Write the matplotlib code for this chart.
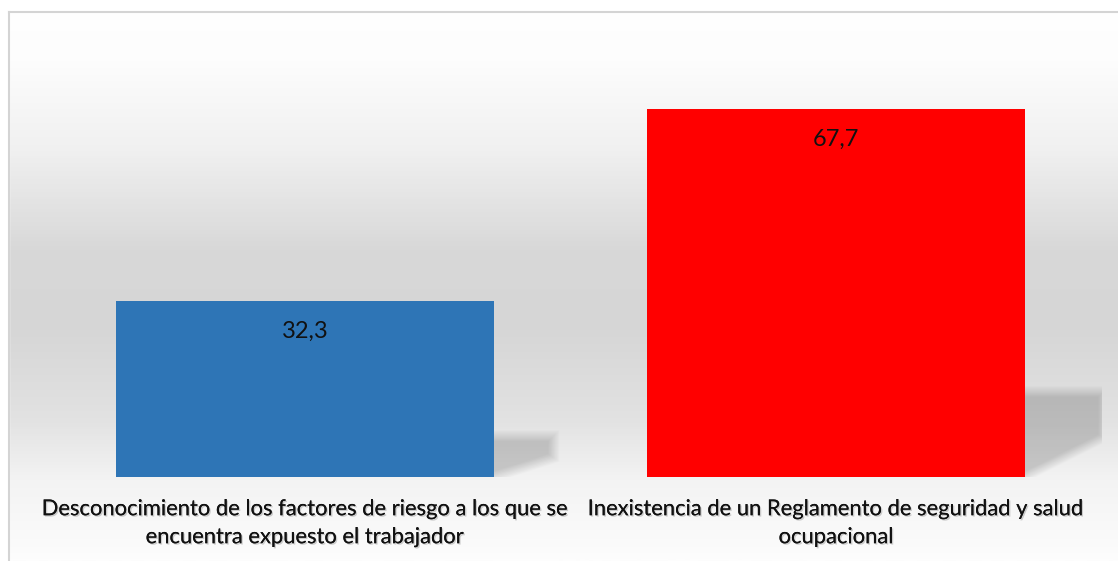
import numpy as np
import matplotlib
matplotlib.use("Agg")
import matplotlib.pyplot as plt
from matplotlib.colors import LinearSegmentedColormap
import matplotlib.patheffects as pe

categories = ["Desconocimiento de los factores de riesgo a los que se\nencuentra expuesto el trabajador",
              "Inexistencia de un Reglamento de seguridad y salud\nocupacional"]
values = [32.3, 67.7]
value_labels = ["32,3", "67,7"]
colors = ["#2E75B6", "#FF0000"]

W, H = 1118, 561
fig = plt.figure(figsize=(W / 100, H / 100), dpi=100)
fig.patch.set_facecolor("white")

# background gradient (figure coords)
bg = fig.add_axes([0, 0, 1, 1], zorder=0)
bg.set_axis_off()
stops = [(0.0, "#ffffff"), (60 / H, "#fdfdfd"), (150 / H, "#f0f0f0"),
         (250 / H, "#d8d8d8"), (330 / H, "#d6d6d6"), (420 / H, "#e2e2e2"),
         (480 / H, "#f3f3f3"), (549 / H, "#fbfbfb"), (1.0, "#fdfdfd")]
cmap = LinearSegmentedColormap.from_list("bg", [(p, c) for p, c in stops])
grad = np.linspace(0, 1, 600).reshape(-1, 1)
bg.imshow(grad, aspect="auto", cmap=cmap, extent=[0, 1, 0, 1], origin="upper", vmin=0, vmax=1)
bg.set_xlim(0, 1)
bg.set_ylim(0, 1)
# white above/left of frame
bg.fill_between([0, 1], 1 - 12 / H, 1, color="white", zorder=3)
bg.fill_between([0, 9 / W], 0, 1, color="white", zorder=3)
# frame lines at left and top
bg.plot([9 / W, 9 / W], [0, 1 - 12 / H], color="#d4d4d4", lw=1.5, zorder=4)
bg.plot([9 / W, 1], [1 - 12 / H, 1 - 12 / H], color="#d4d4d4", lw=1.5, zorder=4)

# main axes
left_px, right_px = 39.5, 1101.5
bottom_px, top_px = 477, 42
ax = fig.add_axes([left_px / W, 1 - bottom_px / H, (right_px - left_px) / W, (bottom_px - top_px) / H], zorder=2)
ax.patch.set_alpha(0)
x = np.arange(len(values))
bw = 0.712

# shadows
for xi, v in zip(x, values):
    xr = xi + bw / 2
    sw = 0.08 + 0.001 * v
    sh = 0.232 * v
    gx = np.linspace(xr - 0.01, xr + sw + 0.03, 200)
    gy = np.linspace(0, sh + 3, 200)
    GX, GY = np.meshgrid(gx, gy)
    u = (GX - xr) / sw
    t = GY / sh
    d_top = (1 - t) * sh / 80 * 435
    d_right = (1 - u) * sw * 531
    d_diag = (t - 0.46 * u) * sh / 80 * 435
    d_left = u * sw * 531 + 6
    d = np.minimum.reduce([d_top, d_right, d_diag, d_left])
    soft = 12.0
    a = np.clip((d + soft / 2) / soft, 0, 1) * 0.18
    rgba = np.zeros(GX.shape + (4,))
    rgba[..., 3] = a
    ax.imshow(rgba, extent=[gx[0], gx[-1], gy[0], gy[-1]], origin="lower", aspect="auto", zorder=1,
              interpolation="bilinear")

ax.bar(x, values, width=bw, color=colors, zorder=2)
ax.set_xlim(-0.5, len(values) - 0.5)
ax.set_ylim(0, 80)

for xi, v, lab in zip(x, values, value_labels):
    ax.text(xi, v - 5.6, lab, ha="center", va="center", fontsize=17, family="Lato",
            color="#111111", zorder=3)

ax.set_xticks(x)
ax.set_xticklabels(categories, fontsize=15.8, family="Lato", color="#111111", linespacing=1.5)
ax.tick_params(axis="x", length=0, pad=16)
ax.set_yticks([])
for s in ax.spines.values():
    s.set_visible(False)
for t in ax.get_xticklabels():
    t.set_path_effects([pe.withSimplePatchShadow(offset=(1, -1), shadow_rgbFace="#888888", alpha=0.4), pe.Normal()])

fig.savefig("out.png", dpi=100)
